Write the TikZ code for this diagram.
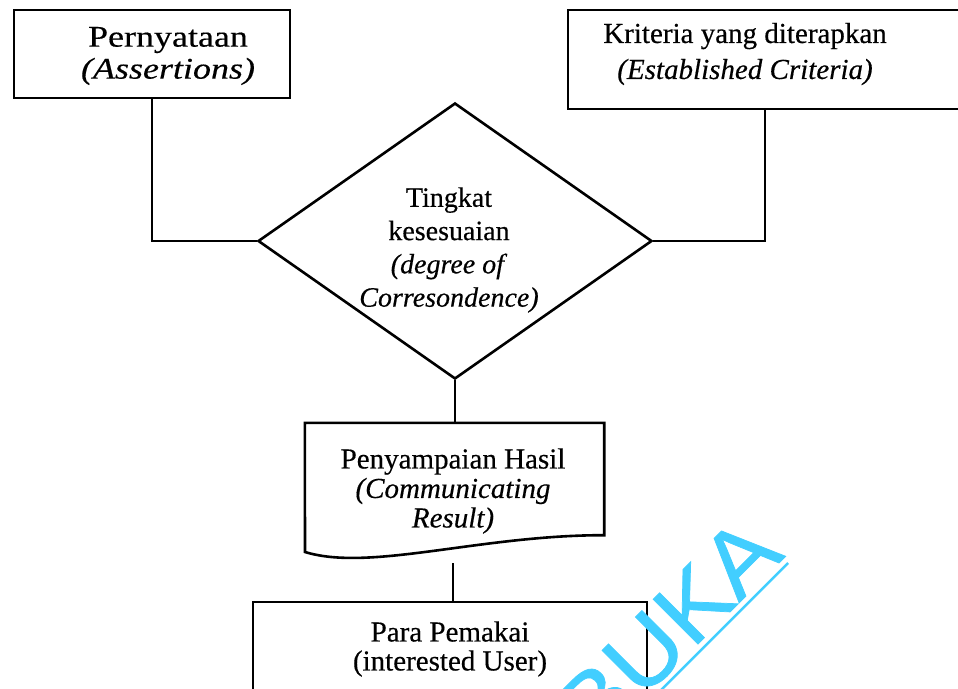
\documentclass[tikz,border=0pt]{standalone}
\usepackage{fontspec}
\setmainfont{Liberation Serif}[FakeBold=0.4]
\newfontfamily\wideserif{Liberation Serif}[FakeStretch=1.2,FakeBold=0.4]
\newfontfamily\markfont{Liberation Sans}[FakeStretch=1.08,FakeBold=0.8]
\usetikzlibrary{shapes.geometric}
\definecolor{markcyan}{RGB}{66,206,255}

\begin{document}
\begin{tikzpicture}[x=1pt,y=-1pt,
  frame/.style={draw=black, line width=2.6pt, rectangle, inner sep=0pt},
  decision/.style={diamond, draw=black, line width=2.6pt, inner sep=0pt},
  txt/.style={align=center, inner sep=0pt},
  link/.style={draw=black, line width=2.6pt},
  markline/.style={draw=markcyan, line width=2.5pt}]

\useasboundingbox (0,0) rectangle (958,688);

% outlines of the flow elements
\node[frame, minimum width=276pt, minimum height=88pt] (A) at (152,54) {};
\node[frame, minimum width=394pt, minimum height=99pt] (B) at (765,59.5) {};
\node[decision, minimum width=394pt, minimum height=276pt] (D) at (455,241) {};
\node[inner sep=0pt, minimum width=299pt, minimum height=112pt] (C) at (454.5,479) {};
\draw[line width=2.6pt, line join=miter]
  (C.north west) -- (C.north east) -- (C.south east)
  .. controls (480,535) and (370,572) .. (305,552) -- cycle;
\node[frame, minimum width=394pt, minimum height=98pt] (E) at (450,651) {};

% texts
\node[txt, font=\wideserif\fontsize{30pt}{32pt}\selectfont] (At) at (168,56)
  {Pernyataan\\\textit{(Assertions)}};
\node[txt, font=\fontsize{29pt}{36pt}\selectfont] (Bt) at (745,54)
  {Kriteria yang diterapkan\\\textit{(Established Criteria)}};
\node[txt, font=\fontsize{28pt}{33.3pt}\selectfont] (Dt) at (449,250)
  {Tingkat\\kesesuaian\\\textit{(degree of}\\\textit{Corresondence)}};
\node[txt, font=\fontsize{29pt}{29.5pt}\selectfont] (Ct) at (453,491)
  {Penyampaian Hasil\\\textit{(Communicating}\\\textit{Result)}};
\node[txt, font=\fontsize{29pt}{29pt}\selectfont] (Et) at (450,649)
  {Para Pemakai\\(interested User)};

% connectors
\draw[link] (A.south) |- (D.west);
\draw[link] (B.south) |- (D.east);
\draw[link] (D.south) -- (D.south |- C.north);
\coordinate (Cfoot) at (453,563);
\draw[link] (Cfoot) -- (Cfoot |- E.north);

% watermark
\node[inner sep=0pt, anchor=base east, rotate=45, text=markcyan,
  font=\markfont\fontsize{92pt}{92pt}\selectfont] (W) at (786,556) {BUKA};
\coordinate (Wa) at (788,563);
\coordinate (Wb) at (600,751);
\draw[markline] (Wa) -- (Wb);
\end{tikzpicture}
\end{document}
